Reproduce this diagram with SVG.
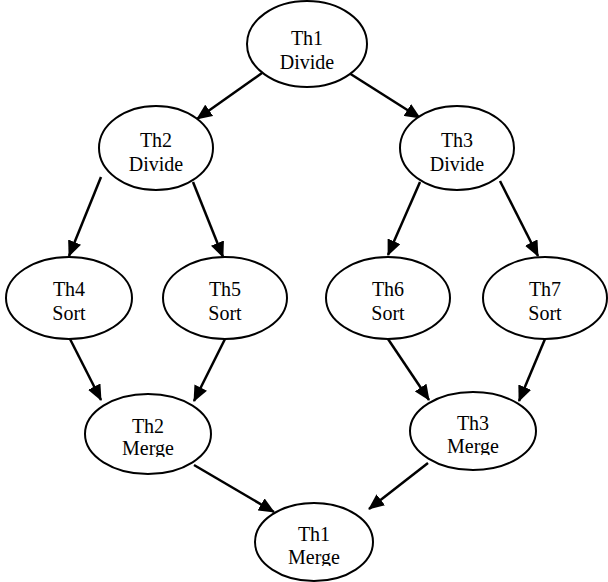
<svg xmlns="http://www.w3.org/2000/svg" width="608" height="582" viewBox="0 0 608 582">
<style>
.n{fill:#fff;stroke:#000;stroke-width:2}
.t{font-family:"Liberation Serif",Tinos,"Times New Roman",Times,"DejaVu Serif",serif;font-size:20px;fill:#000;text-anchor:middle}
.c line{stroke:#000;stroke-width:2.5;marker-end:url(#ah)}
</style>
<defs>
<marker id="ah" markerUnits="userSpaceOnUse" markerWidth="16" markerHeight="14" refX="15" refY="7" orient="auto">
<path d="M0,0 L16,7 L0,14 z" fill="#000"/>
</marker>
<clipPath id="c2"><rect x="80" y="380" width="140" height="77"/></clipPath>
<clipPath id="c3"><rect x="405" y="380" width="140" height="75"/></clipPath>
<clipPath id="c1"><rect x="250" y="495" width="130" height="71"/></clipPath>
</defs>
<g class="c">
<line x1="262" y1="73" x2="197" y2="119"/>
<line x1="349" y1="73" x2="420" y2="118"/>
<line x1="101" y1="177" x2="69" y2="256"/>
<line x1="193" y1="182" x2="223" y2="257"/>
<line x1="420" y1="182" x2="388" y2="255"/>
<line x1="500" y1="181" x2="538" y2="256"/>
<line x1="70" y1="339" x2="101" y2="400"/>
<line x1="225" y1="339" x2="194" y2="401"/>
<line x1="388" y1="339" x2="429" y2="400"/>
<line x1="545" y1="339" x2="519" y2="401"/>
<line x1="194" y1="465" x2="274" y2="512"/>
<line x1="428" y1="463" x2="369" y2="509"/>
</g>
<g id="th1divide"><ellipse class="n" cx="307" cy="44" rx="60" ry="43"/><text class="t" x="307" y="45">Th1</text><text class="t" x="307" y="69">Divide</text></g>
<g id="th2divide"><ellipse class="n" cx="156" cy="148" rx="57" ry="42"/><text class="t" x="156" y="147">Th2</text><text class="t" x="156" y="171">Divide</text></g>
<g id="th3divide"><ellipse class="n" cx="457" cy="148" rx="57" ry="42"/><text class="t" x="457" y="147">Th3</text><text class="t" x="457" y="171">Divide</text></g>
<g id="th4sort"><ellipse class="n" cx="69" cy="298" rx="63" ry="41"/><text class="t" x="69" y="296">Th4</text><text class="t" x="69" y="320">Sort</text></g>
<g id="th5sort"><ellipse class="n" cx="225" cy="298" rx="62" ry="41"/><text class="t" x="225" y="296">Th5</text><text class="t" x="225" y="320">Sort</text></g>
<g id="th6sort"><ellipse class="n" cx="388" cy="298" rx="62" ry="41"/><text class="t" x="388" y="296">Th6</text><text class="t" x="388" y="320">Sort</text></g>
<g id="th7sort"><ellipse class="n" cx="545" cy="298" rx="62" ry="41"/><text class="t" x="545" y="296">Th7</text><text class="t" x="545" y="320">Sort</text></g>
<g id="th2merge"><ellipse class="n" cx="148" cy="434" rx="63" ry="40"/><g clip-path="url(#c2)"><text class="t" x="148" y="433">Th2</text><text class="t" x="148" y="455">Merge</text></g></g>
<g id="th3merge"><ellipse class="n" cx="473" cy="431" rx="63" ry="39"/><g clip-path="url(#c3)"><text class="t" x="473" y="430">Th3</text><text class="t" x="473" y="453">Merge</text></g></g>
<g id="th1merge"><ellipse class="n" cx="314" cy="542" rx="59" ry="39"/><g clip-path="url(#c1)"><text class="t" x="314" y="541">Th1</text><text class="t" x="314" y="564">Merge</text></g></g>
</svg>
